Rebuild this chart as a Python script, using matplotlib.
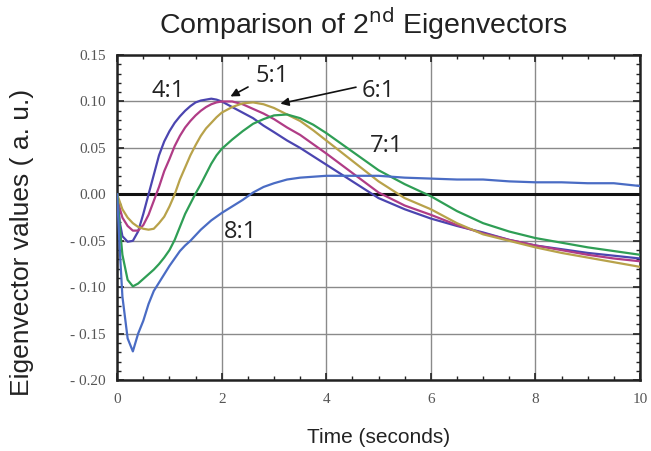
import matplotlib
matplotlib.use("Agg")
import matplotlib.pyplot as plt
from matplotlib.ticker import MultipleLocator, FixedLocator

# ---- data ----
t = [0, 0.05, 0.1, 0.2, 0.3, 0.4, 0.5, 0.6, 0.7, 0.8, 0.9, 1.0, 1.1, 1.2, 1.3, 1.4,
     1.5, 1.6, 1.7, 1.8, 1.9, 2.0, 2.2, 2.4, 2.6, 2.8, 3.0, 3.25, 3.5, 3.75, 4.0,
     4.5, 5.0, 5.5, 6.0, 6.5, 7.0, 7.5, 8.0, 8.5, 9.0, 9.5, 10.0]

r4 = [0, -0.030, -0.045, -0.051, -0.050, -0.040, -0.021, 0.000, 0.021, 0.042, 0.057,
      0.068, 0.077, 0.084, 0.090, 0.095, 0.099, 0.101, 0.102, 0.103, 0.102, 0.100,
      0.094, 0.088, 0.082, 0.074, 0.067, 0.058, 0.050, 0.041, 0.032, 0.014, -0.004,
      -0.016, -0.026, -0.034, -0.041, -0.049, -0.055, -0.059, -0.063, -0.066, -0.069]
r5 = [0, -0.015, -0.025, -0.034, -0.039, -0.039, -0.033, -0.022, -0.007, 0.008, 0.025,
      0.038, 0.052, 0.063, 0.072, 0.079, 0.085, 0.090, 0.094, 0.097, 0.099, 0.100,
      0.100, 0.097, 0.092, 0.087, 0.081, 0.072, 0.064, 0.054, 0.044, 0.023, 0.002,
      -0.012, -0.022, -0.033, -0.042, -0.049, -0.055, -0.060, -0.065, -0.069, -0.072]
r6 = [0, -0.008, -0.016, -0.025, -0.031, -0.035, -0.037, -0.038, -0.037, -0.031, -0.024,
      -0.013, 0.000, 0.016, 0.029, 0.042, 0.053, 0.063, 0.071, 0.077, 0.083, 0.088,
      0.094, 0.098, 0.099, 0.097, 0.093, 0.086, 0.079, 0.069, 0.058, 0.036, 0.014,
      -0.004, -0.016, -0.031, -0.043, -0.050, -0.057, -0.063, -0.068, -0.073, -0.078]
r7 = [0, -0.035, -0.065, -0.092, -0.099, -0.096, -0.091, -0.086, -0.081, -0.075, -0.068,
      -0.060, -0.049, -0.035, -0.021, -0.010, 0.001, 0.011, 0.022, 0.033, 0.042, 0.049,
      0.059, 0.068, 0.076, 0.081, 0.085, 0.086, 0.082, 0.075, 0.066, 0.046, 0.026,
      0.011, -0.002, -0.018, -0.031, -0.040, -0.047, -0.052, -0.057, -0.061, -0.065]
r8 = [0, -0.060, -0.110, -0.155, -0.169, -0.150, -0.136, -0.118, -0.104, -0.095, -0.086,
      -0.077, -0.069, -0.061, -0.055, -0.050, -0.044, -0.038, -0.033, -0.028, -0.024,
      -0.020, -0.013, -0.006, 0.002, 0.008, 0.012, 0.016, 0.018, 0.019, 0.020, 0.020,
      0.020, 0.018, 0.017, 0.016, 0.016, 0.014, 0.013, 0.013, 0.012, 0.012, 0.009]

series = [("4:1", r4, "#4b45b0"), ("5:1", r5, "#b03c86"), ("6:1", r6, "#b8a24a"),
          ("7:1", r7, "#2f9e55"), ("8:1", r8, "#4a6cc4")]

ytick_vals = [-0.20, -0.15, -0.10, -0.05, 0.00, 0.05, 0.10, 0.15]
ytick_labels = ["- 0.20", "- 0.15", "- 0.10", "- 0.05", "0.00", "0.05", "0.10", "0.15"]
xtick_vals = [0, 2, 4, 6, 8, 10]
xtick_labels = ["0", "2", "4", "6", "8", "10"]

fig = plt.figure(figsize=(6.51, 4.51), dpi=100)
ax = fig.add_axes([0.180, 0.157, 0.803, 0.721])

for name, vals, col in series:
    ax.plot(t, vals, color=col, lw=1.6, zorder=3, solid_joinstyle="round")

ax.set_xlim(0, 10)
ax.set_ylim(-0.20, 0.15)
ax.xaxis.set_major_locator(FixedLocator(xtick_vals))
ax.set_xticklabels(xtick_labels)
ax.xaxis.set_minor_locator(MultipleLocator(0.5))
ax.yaxis.set_major_locator(FixedLocator(ytick_vals))
ax.set_yticklabels(ytick_labels)
ax.yaxis.set_minor_locator(MultipleLocator(0.01))

ax.grid(True, which="major", color="#8a8a8a", lw=1.0, zorder=1)
ax.axhline(0, color="#111111", lw=2.2, zorder=2)

ax.tick_params(which="both", direction="in", top=True, right=True, color="#222222")
ax.tick_params(which="major", length=5, width=1.2, labelsize=11, labelcolor="#555555")
ax.tick_params(axis="x", which="major", pad=9)
ax.tick_params(axis="y", which="major", pad=8)
ax.tick_params(which="minor", length=3, width=1.0)
for lab in ax.get_xticklabels() + ax.get_yticklabels():
    lab.set_fontfamily("Liberation Serif")
for s in ax.spines.values():
    s.set_linewidth(1.8)
    s.set_color("#222222")

fig.text(0.558, 0.947, "Comparison of 2$^{\\mathrm{nd}}$ Eigenvectors", ha="center", va="center",
         fontsize=20.5, family="Liberation Sans", color="#222222")
fig.text(0.582, 0.031, "Time (seconds)", ha="center", va="center",
         fontsize=15, family="Liberation Sans", color="#222222")
fig.text(0.034, 0.463, "Eigenvector values ( a. u.)", rotation=90, ha="center", va="center",
         fontsize=19, family="Liberation Sans", color="#222222")

afont = dict(fontsize=17, family="Open Sans", color="#222222", zorder=5)
ax.text(0.98, 0.111, "4:1", ha="center", va="center", **afont)
ax.text(2.97, 0.127, "5:1", ha="center", va="center", **afont)
ax.text(5.0, 0.111, "6:1", ha="center", va="center", **afont)
ax.text(5.15, 0.052, "7:1", ha="center", va="center", **afont)
ax.text(2.36, -0.040, "8:1", ha="center", va="center", **afont)
ax.annotate("", xy=(2.12, 0.104), xytext=(2.55, 0.117),
            arrowprops=dict(arrowstyle="-|>", color="#111111", lw=1.2, mutation_scale=12), zorder=5)
ax.annotate("", xy=(3.07, 0.097), xytext=(4.62, 0.116),
            arrowprops=dict(arrowstyle="-|>", color="#111111", lw=1.2, mutation_scale=12), zorder=5)

fig.savefig("out.png", dpi=100)
